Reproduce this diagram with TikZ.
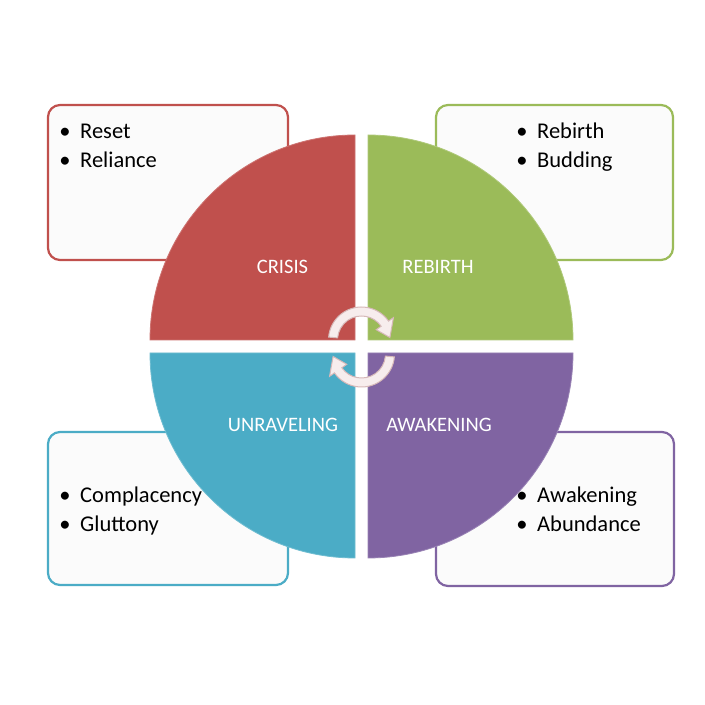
\documentclass[tikz,border=0pt]{standalone}
\usepackage{fontspec}
\setmainfont{Carlito}
\usetikzlibrary{positioning}
\definecolor{crisisred}{RGB}{192,80,77}
\definecolor{rebirthgreen}{RGB}{155,187,89}
\definecolor{unravelblue}{RGB}{75,172,198}
\definecolor{awakenpurple}{RGB}{128,100,162}
\definecolor{arrowfill}{RGB}{247,237,237}
\definecolor{arrowline}{RGB}{214,184,184}
\definecolor{boxbg}{RGB}{251,251,251}
\tikzset{
  notebox/.style={rounded corners=12pt,line width=2.2pt,fill=boxbg},
  quarter/.style={line width=0.8pt},
  phase/.style={font=\fontsize{20.5}{24}\selectfont,text=white,anchor=base,inner sep=0pt},
  item/.style={font=\fontsize{22.5}{27}\selectfont,anchor=base west,inner sep=0pt},
  nextitem/.style={item,yshift=-29pt},
  cyclearrow/.style={fill=arrowfill,draw=arrowline,line width=1pt},
}
\newcommand{\blt}{\llap{\textbullet\hspace{9.5pt}}}

\begin{document}
\begin{tikzpicture}[x=1pt,y=1pt]
  \useasboundingbox[fill=white] (0,0) rectangle (705,705);
  % note boxes behind the circle
  \draw[notebox,draw=crisisred] (48,445) rectangle (288,600);
  \draw[notebox,draw=rebirthgreen] (436,445) rectangle (673,600);
  \draw[notebox,draw=unravelblue] (48,120) rectangle (288,273);
  \draw[notebox,draw=awakenpurple] (436,119) rectangle (674,273);
  % the four quarters
  \filldraw[quarter,fill=crisisred,draw=crisisred!80!white] (355,365) -- (150,365) arc[start angle=180,end angle=90,radius=205] -- cycle;
  \filldraw[quarter,fill=rebirthgreen,draw=rebirthgreen!80!white] (368,365) -- (368,570) arc[start angle=90,end angle=0,radius=205] -- cycle;
  \filldraw[quarter,fill=unravelblue,draw=unravelblue!80!white] (355,352) -- (355,147) arc[start angle=270,end angle=180,radius=205] -- cycle;
  \filldraw[quarter,fill=awakenpurple,draw=awakenpurple!80!white] (368,352) -- (573,352) arc[start angle=0,end angle=-90,radius=205] -- cycle;
  \node[phase] (crisis) at (282.5,431) {CRISIS};
  \node[phase] (rebirth) at (438,431) {REBIRTH};
  \node[phase] (unraveling) at (283,273.3) {UNRAVELING};
  \node[phase] (awakening) at (439,273.3) {AWAKENING};
  % cycle arrows in the middle
  \begin{scope}[shift={(361.5,365)}]
    \filldraw[cyclearrow] (175:33) arc[start angle=175,end angle=35,radius=33]
      -- (35:39) -- (5:28.5) -- (35:18) -- (35:24)
      arc[start angle=35,end angle=175,radius=24] -- cycle;
  \end{scope}
  \begin{scope}[shift={(361.5,351)}]
    \filldraw[cyclearrow] (-5:33) arc[start angle=-5,end angle=-145,radius=33]
      -- (-145:39) -- (-175:28.5) -- (-145:18) -- (-145:24)
      arc[start angle=-145,end angle=-5,radius=24] -- cycle;
  \end{scope}
  % bullet lists
  \node[item] (reset) at (80,566.5) {\blt Reset};
  \node[nextitem] (reliance) at (reset.base west) {\blt Reliance};
  \node[item] (rebirth1) at (537,566.5) {\blt Rebirth};
  \node[nextitem] (budding) at (rebirth1.base west) {\blt Budding};
  \node[item] (complacency) at (80,202.5) {\blt Complacency};
  \node[nextitem] (gluttony) at (complacency.base west) {\blt Gluttony};
  \node[item] (awakening1) at (537,202.5) {\blt Awakening};
  \node[nextitem] (abundance) at (awakening1.base west) {\blt Abundance};
\end{tikzpicture}
\end{document}
